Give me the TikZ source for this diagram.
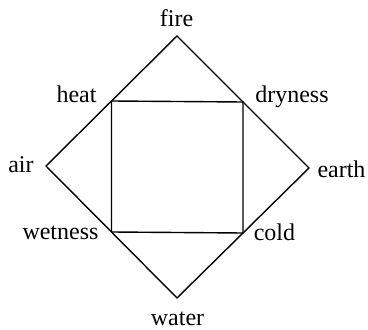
\documentclass[tikz,border=0pt]{standalone}
\usepackage{fontspec}
\setmainfont{Liberation Serif}
\begin{document}
\begin{tikzpicture}[x=1pt,y=1pt,
  edge/.style={line width=1.4pt,line join=miter},
  lbl/.style={anchor=base,inner sep=0pt,font=\fontsize{24}{28}\selectfont}]
\useasboundingbox (0,0) rectangle (368,330);
% diamond vertices
\coordinate (F) at (177,294);
\coordinate (A) at (46,164);
\coordinate (E) at (309,162);
\coordinate (W) at (177,32);
% square corners
\coordinate (H) at (111.5,229);
\coordinate (D) at (243,228);
\coordinate (Wt) at (111.5,98);
\coordinate (C) at (243,97);
\draw[edge] (F) -- (E) -- (W) -- (A) -- cycle;
\draw[edge] (H) -- (D) -- (C) -- (Wt) -- cycle;
% labels
\node[lbl] (fire) at (176.5,303) {fire};
\node[lbl] (heat) at (76.5,227) {heat};
\node[lbl] (dry) at (292,227) {dryness};
\node[lbl] (air) at (21,157) {air};
\node[lbl] (earth) at (341.5,152) {earth};
\node[lbl] (wet) at (60.5,90) {wetness};
\node[lbl] (cold) at (274.5,89) {cold};
\node[lbl] (water) at (177.5,4) {water};
\end{tikzpicture}
\end{document}
